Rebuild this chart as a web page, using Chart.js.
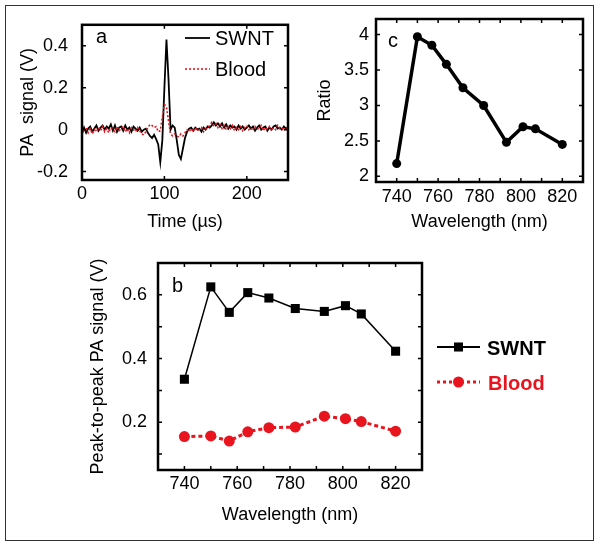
<!DOCTYPE html>
<html>
<head>
<meta charset="utf-8">
<title>PA signal of SWNT and blood</title>
<script src="https://cdn.jsdelivr.net/npm/chart.js@4.4.0/dist/chart.umd.min.js"></script>
<style>
    html, body { margin: 0; padding: 0; background: #fff; }
    #figure { position: relative; width: 601px; height: 547px; overflow: hidden; }
    #figure canvas { position: absolute; left: 0; top: 0; }
    #frame { position: absolute; left: 5px; top: 5px; width: 587px; height: 534px; border: 1.5px solid #333; }
</style>
</head>
<body>
<div id="figure">
    <div id="frame"></div>
    <canvas id="signal-chart" width="601" height="547"></canvas>
    <canvas id="ratio-chart" width="601" height="547"></canvas>
    <canvas id="peak-chart" width="601" height="547"></canvas>
</div>
<script>
// ---- panel a : raw PA signal vs time ----
const timeUs = [
    0, 2.5, 5, 7.5, 10, 12.5, 15, 17.5, 20, 22.5,
    25, 27.5, 30, 32.5, 35, 37.5, 40, 42.5, 45, 47.5,
    50, 52.5, 55, 57.5, 60, 62.5, 65, 67.5, 70, 72.5,
    75, 77.5, 80, 82.5, 85, 87.5, 90, 92.5, 95, 97.5,
    100, 102.5, 105, 107.5, 110, 112.5, 115, 117.5, 120, 122.5,
    125, 127.5, 130, 132.5, 135, 137.5, 140, 142.5, 145, 147.5,
    150, 152.5, 155, 157.5, 160, 162.5, 165, 167.5, 170, 172.5,
    175, 177.5, 180, 182.5, 185, 187.5, 190, 192.5, 195, 197.5,
    200, 202.5, 205, 207.5, 210, 212.5, 215, 217.5, 220, 222.5,
    225, 227.5, 230, 232.5, 235, 237.5, 240, 242.5, 245, 247.5,
    250
];
const swntSignal = [
    -0.02, 0.01, -0.015, 0.005, 0.015, -0.01, 0.005, 0.02, -0.005, 0.01,
    0.02, 0.0, 0.015, 0.005, 0.025, -0.005, 0.02, -0.01, 0.01, 0.015,
    -0.005, 0.02, 0.0, 0.01, -0.01, 0.015, 0.005, -0.005, 0.01, -0.01,
    0.0, 0.005, -0.015, -0.03, -0.04, -0.025, -0.045, -0.07, -0.155, -0.05,
    0.2, 0.43, 0.24, 0.0, 0.02, 0.01, -0.05, -0.12, -0.14, -0.09,
    -0.04, -0.01, 0.005, 0.01, -0.005, 0.01, 0.0, 0.005, -0.01, 0.01,
    0.0, 0.015, 0.01, 0.02, 0.035, 0.02, 0.03, 0.015, 0.03, 0.01,
    0.025, 0.005, 0.02, 0.01, 0.015, 0.0, 0.02, 0.005, 0.015, 0.0,
    0.01, 0.02, 0.005, 0.015, -0.005, 0.01, 0.02, 0.0, 0.01, 0.015,
    -0.005, 0.01, 0.0, 0.015, 0.02, 0.005, 0.01, 0.0, 0.015, 0.005,
    0.01
];
const bloodSignal = [
    0.0, -0.01, 0.01, -0.015, 0.005, -0.02, 0.0, -0.01, 0.01, -0.005,
    0.015, -0.01, 0.005, -0.015, 0.01, 0.0, -0.01, 0.015, -0.005, 0.005,
    0.015, -0.01, 0.005, -0.015, 0.01, 0.0, -0.01, 0.01, -0.005, -0.02,
    -0.025, -0.01, 0.01, 0.025, 0.02, 0.01, 0.015, -0.01, -0.005, 0.06,
    0.12, 0.11, 0.04, -0.02, -0.03, -0.02, -0.03, -0.035, -0.02, -0.03,
    -0.015, 0.0, -0.01, 0.005, -0.01, 0.01, -0.005, 0.0, 0.01, -0.01,
    0.005, 0.01, 0.02, 0.035, 0.02, 0.03, 0.01, 0.025, 0.005, 0.02,
    0.0, 0.015, 0.005, 0.02, -0.005, 0.01, 0.0, 0.015, -0.005, 0.01,
    0.02, 0.0, 0.01, -0.005, 0.015, 0.0, 0.01, 0.02, -0.005, 0.01,
    0.0, 0.015, -0.005, 0.01, 0.0, 0.02, 0.005, 0.01, -0.005, 0.01,
    0.005
];
const signalTimeTicks = [0, 100, 200];
const signalVoltTicks = [-0.2, 0, 0.2, 0.4];

// ---- panels b and c : spectra ----
const wavelengths = [740, 750, 757, 764, 772, 782, 793, 801, 807, 820];
const swntPeak = [0.335, 0.625, 0.545, 0.607, 0.59, 0.557, 0.548, 0.566, 0.54, 0.423];
const bloodPeak = [0.155, 0.157, 0.141, 0.170, 0.183, 0.185, 0.219, 0.211, 0.202, 0.172];
const ratio = [2.18, 3.97, 3.85, 3.58, 3.25, 3.0, 2.48, 2.70, 2.67, 2.45];

const wavelengthTicks = [740, 750, 760, 770, 780, 790, 800, 810, 820];
const wavelengthLabels = [740, 760, 780, 800, 820];
const ratioTicks = [2, 2.5, 3, 3.5, 4];
const peakTicks = [0.1, 0.2, 0.3, 0.4, 0.5, 0.6, 0.7];
const peakLabels = [0.2, 0.4, 0.6];

const RED = '#e8151f';
const TICK_LEN = 4;

Chart.defaults.font.family = "'Liberation Sans', Arial, sans-serif";
Chart.defaults.font.size = 18;
Chart.defaults.color = '#000';

/**
 * Draws the MATLAB style box, inward ticks, panel letter and legend
 */
const panelDecor = {
    id: 'panelDecor',
    afterDatasetsDraw(chart, args, opts) {
        const ctx = chart.ctx;
        const area = chart.chartArea;
        const xs = chart.scales.x;
        const ys = chart.scales.y;
        ctx.save();

        // ticks on all four sides, pointing in
        ctx.strokeStyle = '#000';
        ctx.lineWidth = 1.5;
        ctx.beginPath();
        xs.ticks.forEach(t => {
            const px = xs.getPixelForValue(t.value);
            ctx.moveTo(px, area.bottom); ctx.lineTo(px, area.bottom - TICK_LEN);
            ctx.moveTo(px, area.top); ctx.lineTo(px, area.top + TICK_LEN);
        });
        ys.ticks.forEach(t => {
            const py = ys.getPixelForValue(t.value);
            ctx.moveTo(area.left, py); ctx.lineTo(area.left + TICK_LEN, py);
            ctx.moveTo(area.right, py); ctx.lineTo(area.right - TICK_LEN, py);
        });
        ctx.stroke();

        ctx.lineWidth = 2.5;
        ctx.strokeRect(area.left, area.top, area.right - area.left, area.bottom - area.top);

        // panel letter
        if (opts.letter) {
            ctx.fillStyle = '#000';
            ctx.font = "20px 'Liberation Sans', Arial, sans-serif";
            ctx.textAlign = 'left';
            ctx.textBaseline = 'alphabetic';
            ctx.fillText(opts.letter.text, opts.letter.x, opts.letter.y);
        }

        // legend entries
        (opts.legend || []).forEach(item => {
            ctx.save();
            ctx.strokeStyle = item.color;
            ctx.lineWidth = item.lineWidth;
            ctx.setLineDash(item.dash || []);
            ctx.beginPath();
            ctx.moveTo(item.x0, item.y);
            ctx.lineTo(item.x1, item.y);
            ctx.stroke();
            ctx.setLineDash([]);
            if (item.marker) {
                ctx.fillStyle = item.color;
                Chart.helpers.drawPoint(ctx, {
                    pointStyle: item.marker,
                    radius: item.radius,
                    rotation: 0,
                    borderWidth: 0
                }, (item.x0 + item.x1) / 2, item.y);
            }
            ctx.fillStyle = item.textColor || '#000';
            ctx.font = (item.bold ? 'bold ' : '') + "20px 'Liberation Sans', Arial, sans-serif";
            ctx.textAlign = 'left';
            ctx.textBaseline = 'alphabetic';
            ctx.fillText(item.text, item.tx, item.ty);
            ctx.restore();
        });

        ctx.restore();
    }
};

function xyPairs(xs, ys) {
    return xs.map((x, i) => ({ x: x, y: ys[i] }));
}

function fixedTicks(values) {
    return function(scale) {
        scale.ticks = values.map(v => ({ value: v }));
    };
}

function labelOnly(values) {
    return function(value) {
        return values.includes(value) ? String(value) : '';
    };
}

/**
 * Panel a: PA signal in time
 */
function createSignalChart() {
    new Chart(document.getElementById('signal-chart'), {
        type: 'line',
        data: {
            datasets: [
                {
                    label: 'SWNT',
                    data: xyPairs(timeUs, swntSignal),
                    borderColor: '#000',
                    borderWidth: 1.8,
                    pointRadius: 0,
                    tension: 0,
                    order: 1
                },
                {
                    label: 'Blood',
                    data: xyPairs(timeUs, bloodSignal),
                    borderColor: RED,
                    borderWidth: 1.6,
                    borderDash: [2, 2],
                    pointRadius: 0,
                    tension: 0,
                    order: 0
                }
            ]
        },
        options: {
            responsive: false,
            animation: false,
            devicePixelRatio: 1,
            layout: { padding: { left: 17, top: 16, right: 313, bottom: 314 } },
            plugins: {
                legend: { display: false },
                tooltip: { enabled: false },
                panelDecor: {
                    letter: { text: 'a', x: 96, y: 43 },
                    legend: [
                        { text: 'SWNT', color: '#000', lineWidth: 1.8, x0: 185, x1: 210, y: 38, tx: 215, ty: 45 },
                        { text: 'Blood', color: RED, lineWidth: 1.6, dash: [2, 2], x0: 185, x1: 210, y: 69, tx: 215, ty: 76 }
                    ]
                }
            },
            scales: {
                x: {
                    type: 'linear',
                    min: 0,
                    max: 250,
                    afterBuildTicks: fixedTicks(signalTimeTicks),
                    afterFit: s => { s.height = 53; },
                    grid: { display: false, drawTicks: false },
                    border: { display: false },
                    ticks: { padding: 3, maxRotation: 0, autoSkip: false },
                    title: { display: true, text: 'Time (µs)', padding: 0 }
                },
                y: {
                    min: -0.24,
                    max: 0.5,
                    afterBuildTicks: fixedTicks(signalVoltTicks),
                    afterFit: s => { s.width = 65; },
                    grid: { display: false, drawTicks: false },
                    border: { display: false },
                    ticks: { padding: 14, autoSkip: false },
                    title: { display: true, text: 'PA  signal (V)', padding: 0 }
                }
            }
        },
        plugins: [panelDecor]
    });
}

/**
 * Panel c: SWNT / blood ratio vs wavelength
 */
function createRatioChart() {
    new Chart(document.getElementById('ratio-chart'), {
        type: 'line',
        data: {
            datasets: [{
                label: 'Ratio',
                data: xyPairs(wavelengths, ratio),
                borderColor: '#000',
                backgroundColor: '#000',
                borderWidth: 3.5,
                pointRadius: 4.5,
                pointBorderWidth: 0,
                tension: 0
            }]
        },
        options: {
            responsive: false,
            animation: false,
            devicePixelRatio: 1,
            layout: { padding: { left: 314, top: 19, right: 18, bottom: 314 } },
            plugins: {
                legend: { display: false },
                tooltip: { enabled: false },
                panelDecor: { letter: { text: 'c', x: 388, y: 47 } }
            },
            scales: {
                x: {
                    type: 'linear',
                    min: 730,
                    max: 830,
                    afterBuildTicks: fixedTicks(wavelengthTicks),
                    afterFit: s => { s.height = 51; },
                    grid: { display: false, drawTicks: false },
                    border: { display: false },
                    ticks: { padding: 4, maxRotation: 0, autoSkip: false, callback: labelOnly(wavelengthLabels) },
                    title: { display: true, text: 'Wavelength (nm)', padding: 0 }
                },
                y: {
                    min: 1.92,
                    max: 4.22,
                    afterBuildTicks: fixedTicks(ratioTicks),
                    afterFit: s => { s.width = 62; },
                    grid: { display: false, drawTicks: false },
                    border: { display: false },
                    ticks: { padding: 7, autoSkip: false, callback: labelOnly(ratioTicks) },
                    title: { display: true, text: 'Ratio', padding: 0 }
                }
            }
        },
        plugins: [panelDecor]
    });
}

/**
 * Panel b: peak-to-peak PA signal vs wavelength
 */
function createPeakChart() {
    new Chart(document.getElementById('peak-chart'), {
        type: 'line',
        data: {
            datasets: [
                {
                    label: 'SWNT',
                    data: xyPairs(wavelengths, swntPeak),
                    borderColor: '#000',
                    backgroundColor: '#000',
                    borderWidth: 1.5,
                    pointStyle: 'rect',
                    pointRadius: 6.4,
                    pointBorderWidth: 0,
                    tension: 0
                },
                {
                    label: 'Blood',
                    data: xyPairs(wavelengths, bloodPeak),
                    borderColor: RED,
                    backgroundColor: RED,
                    borderWidth: 3,
                    borderDash: [4, 3],
                    pointStyle: 'circle',
                    pointRadius: 5.5,
                    pointBorderWidth: 0,
                    tension: 0
                }
            ]
        },
        options: {
            responsive: false,
            animation: false,
            devicePixelRatio: 1,
            layout: { padding: { left: 87, top: 263, right: 179, bottom: 21 } },
            plugins: {
                legend: { display: false },
                tooltip: { enabled: false },
                panelDecor: {
                    letter: { text: 'b', x: 172, y: 292 },
                    legend: [
                        { text: 'SWNT', color: '#000', lineWidth: 2, x0: 437, x1: 480, y: 347, marker: 'rect', radius: 6.4, tx: 487, ty: 355, bold: true },
                        { text: 'Blood', color: RED, textColor: RED, lineWidth: 3, dash: [3, 3], x0: 437, x1: 480, y: 382, marker: 'circle', radius: 5.5, tx: 488, ty: 390, bold: true }
                    ]
                }
            },
            scales: {
                x: {
                    type: 'linear',
                    min: 730,
                    max: 830,
                    afterBuildTicks: fixedTicks(wavelengthTicks),
                    afterFit: s => { s.height = 56; },
                    grid: { display: false, drawTicks: false },
                    border: { display: false },
                    ticks: { padding: 3, maxRotation: 0, autoSkip: false, callback: labelOnly(wavelengthLabels) },
                    title: { display: true, text: 'Wavelength (nm)', padding: 0 }
                },
                y: {
                    min: 0.05,
                    max: 0.7,
                    afterBuildTicks: fixedTicks(peakTicks),
                    afterFit: s => { s.width = 71; },
                    grid: { display: false, drawTicks: false },
                    border: { display: false },
                    ticks: { padding: 11, autoSkip: false, callback: labelOnly(peakLabels) },
                    title: { display: true, text: 'Peak-to-peak PA signal (V)', padding: 0 }
                }
            }
        },
        plugins: [panelDecor]
    });
}

createSignalChart();
createRatioChart();
createPeakChart();
</script>
</body>
</html>
